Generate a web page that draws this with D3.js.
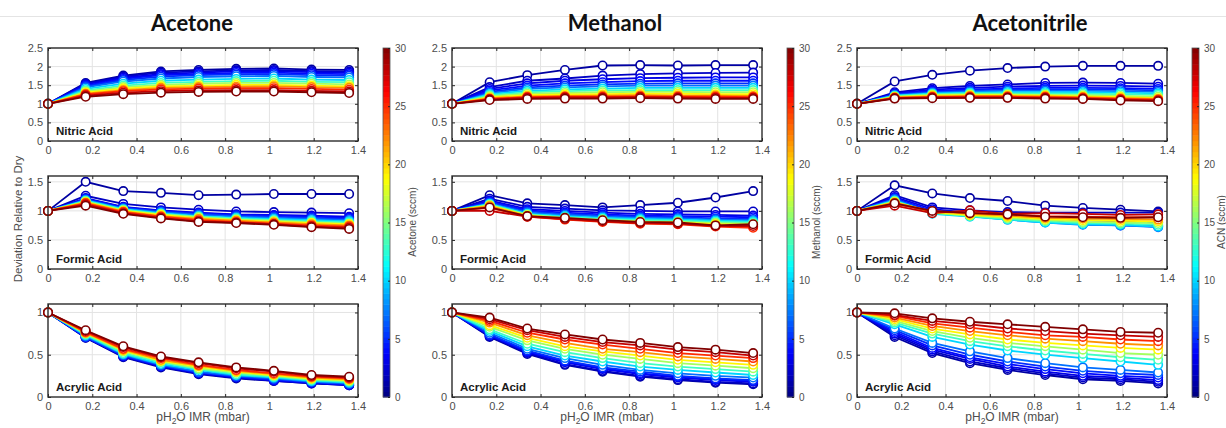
<!doctype html>
<html lang="en">
<head>
<meta charset="utf-8" />
<title>Deviation Relative to Dry</title>
<style>
  html, body { margin: 0; padding: 0; background: #fff; }
  svg { display: block; font-family: "Liberation Sans", Arial, sans-serif; }
  .tick text { fill: #4d4d4d; font-size: 11px; }
  .tick line { stroke: #262626; }
</style>
</head>
<body>
<svg id="chart" width="1226" height="428"></svg>

<script src="https://cdn.jsdelivr.net/npm/d3@7"></script>
<script>

// ---- data ----
var solvents = ['Acetone', 'Methanol', 'Acetonitrile'];
var cbLabels = ['Acetone (sccm)', 'Methanol (sccm)', 'ACN (sccm)'];
var acids = ['Nitric Acid', 'Formic Acid', 'Acrylic Acid'];
var xVals = [0, 0.17, 0.34, 0.51, 0.68, 0.85, 1.02, 1.19, 1.36];
var xTicks = [0, 0.2, 0.4, 0.6, 0.8, 1, 1.2, 1.4];
var yMax = [2.5, 1.6, 1.1];
var yTicks = [[0, 0.5, 1, 1.5, 2, 2.5], [0, 0.5, 1, 1.5], [0, 0.5, 1]];
var cbTicks = [0, 5, 10, 15, 20, 25, 30];
// flow of the added solvent (sccm), one row of each matrix per flow
var flows = [1, 2, 3, 4, 5, 7, 10, 13, 16, 19, 22, 25, 28, 30];

var acetoneNitric = [
  [1, 1.56, 1.76, 1.87, 1.91, 1.94, 1.95, 1.92, 1.91],
  [1, 1.54, 1.73, 1.84, 1.87, 1.90, 1.91, 1.88, 1.87],
  [1, 1.52, 1.70, 1.80, 1.84, 1.87, 1.88, 1.85, 1.84],
  [1, 1.49, 1.67, 1.77, 1.80, 1.83, 1.84, 1.81, 1.80],
  [1, 1.47, 1.64, 1.73, 1.77, 1.79, 1.80, 1.77, 1.76],
  [1, 1.44, 1.60, 1.68, 1.72, 1.74, 1.75, 1.72, 1.71],
  [1, 1.40, 1.54, 1.62, 1.65, 1.67, 1.68, 1.65, 1.64],
  [1, 1.36, 1.49, 1.56, 1.59, 1.61, 1.62, 1.59, 1.58],
  [1, 1.33, 1.45, 1.51, 1.54, 1.56, 1.56, 1.54, 1.52],
  [1, 1.30, 1.41, 1.47, 1.49, 1.51, 1.51, 1.49, 1.47],
  [1, 1.27, 1.37, 1.43, 1.45, 1.46, 1.47, 1.45, 1.43],
  [1, 1.25, 1.34, 1.39, 1.41, 1.42, 1.42, 1.40, 1.38],
  [1, 1.22, 1.30, 1.34, 1.36, 1.37, 1.37, 1.35, 1.33],
  [1, 1.19, 1.26, 1.30, 1.32, 1.33, 1.33, 1.31, 1.29]
];
var acetoneFormic = [
  [1, 1.50, 1.34, 1.31, 1.27, 1.28, 1.29, 1.29, 1.29],
  [1, 1.26, 1.12, 1.06, 1.02, 0.99, 0.98, 0.97, 0.96],
  [1, 1.22, 1.07, 1.01, 0.97, 0.94, 0.93, 0.92, 0.90],
  [1, 1.21, 1.06, 1.00, 0.96, 0.93, 0.92, 0.90, 0.88],
  [1, 1.20, 1.05, 0.99, 0.95, 0.92, 0.90, 0.88, 0.86],
  [1, 1.19, 1.04, 0.98, 0.93, 0.90, 0.88, 0.86, 0.84],
  [1, 1.18, 1.03, 0.96, 0.91, 0.88, 0.86, 0.84, 0.82],
  [1, 1.17, 1.02, 0.95, 0.90, 0.87, 0.84, 0.82, 0.80],
  [1, 1.16, 1.01, 0.94, 0.89, 0.85, 0.83, 0.80, 0.78],
  [1, 1.15, 1.00, 0.93, 0.87, 0.84, 0.81, 0.79, 0.77],
  [1, 1.14, 0.99, 0.91, 0.86, 0.83, 0.80, 0.77, 0.75],
  [1, 1.13, 0.98, 0.90, 0.84, 0.81, 0.78, 0.75, 0.73],
  [1, 1.11, 0.96, 0.88, 0.82, 0.80, 0.77, 0.73, 0.71],
  [1, 1.09, 0.95, 0.87, 0.81, 0.79, 0.76, 0.72, 0.69]
];
var acetoneAcrylic = [
  [1, 0.70, 0.47, 0.35, 0.27, 0.22, 0.19, 0.16, 0.14],
  [1, 0.70, 0.48, 0.36, 0.28, 0.23, 0.19, 0.16, 0.14],
  [1, 0.71, 0.48, 0.36, 0.28, 0.23, 0.20, 0.17, 0.14],
  [1, 0.71, 0.49, 0.37, 0.29, 0.24, 0.20, 0.17, 0.15],
  [1, 0.71, 0.49, 0.37, 0.29, 0.24, 0.21, 0.18, 0.15],
  [1, 0.72, 0.50, 0.38, 0.30, 0.25, 0.22, 0.18, 0.16],
  [1, 0.73, 0.51, 0.39, 0.32, 0.26, 0.23, 0.19, 0.17],
  [1, 0.74, 0.52, 0.41, 0.33, 0.27, 0.24, 0.20, 0.18],
  [1, 0.75, 0.54, 0.42, 0.34, 0.29, 0.25, 0.21, 0.19],
  [1, 0.76, 0.55, 0.43, 0.36, 0.30, 0.26, 0.22, 0.20],
  [1, 0.76, 0.56, 0.44, 0.37, 0.31, 0.27, 0.23, 0.21],
  [1, 0.77, 0.57, 0.46, 0.38, 0.32, 0.28, 0.24, 0.22],
  [1, 0.78, 0.59, 0.47, 0.40, 0.34, 0.30, 0.25, 0.23],
  [1, 0.79, 0.60, 0.48, 0.41, 0.35, 0.31, 0.26, 0.24]
];

var methanolNitric = [
  [1, 1.58, 1.77, 1.91, 2.03, 2.04, 2.03, 2.04, 2.04],
  [1, 1.45, 1.62, 1.68, 1.76, 1.80, 1.82, 1.83, 1.84],
  [1, 1.40, 1.55, 1.62, 1.66, 1.69, 1.70, 1.71, 1.71],
  [1, 1.36, 1.49, 1.55, 1.58, 1.61, 1.62, 1.62, 1.62],
  [1, 1.32, 1.44, 1.49, 1.52, 1.54, 1.55, 1.55, 1.55],
  [1, 1.29, 1.40, 1.44, 1.47, 1.49, 1.49, 1.49, 1.49],
  [1, 1.26, 1.35, 1.39, 1.41, 1.43, 1.43, 1.43, 1.43],
  [1, 1.23, 1.31, 1.34, 1.36, 1.37, 1.37, 1.37, 1.37],
  [1, 1.20, 1.27, 1.29, 1.31, 1.32, 1.32, 1.31, 1.31],
  [1, 1.17, 1.23, 1.25, 1.26, 1.27, 1.27, 1.26, 1.26],
  [1, 1.15, 1.20, 1.21, 1.22, 1.23, 1.22, 1.22, 1.21],
  [1, 1.13, 1.18, 1.19, 1.19, 1.20, 1.19, 1.19, 1.18],
  [1, 1.12, 1.16, 1.17, 1.17, 1.18, 1.17, 1.16, 1.16],
  [1, 1.10, 1.13, 1.14, 1.14, 1.15, 1.14, 1.13, 1.13]
];
var methanolFormic = [
  [1, 1.27, 1.13, 1.10, 1.06, 1.10, 1.14, 1.23, 1.34],
  [1, 1.21, 1.07, 1.04, 1.01, 1.00, 0.99, 0.99, 0.99],
  [1, 1.18, 1.03, 1.00, 0.97, 0.95, 0.94, 0.93, 0.92],
  [1, 1.16, 1.01, 0.97, 0.94, 0.92, 0.91, 0.90, 0.89],
  [1, 1.15, 0.99, 0.95, 0.92, 0.90, 0.89, 0.87, 0.86],
  [1, 1.13, 0.97, 0.93, 0.90, 0.88, 0.87, 0.85, 0.84],
  [1, 1.12, 0.95, 0.91, 0.88, 0.86, 0.85, 0.83, 0.82],
  [1, 1.11, 0.94, 0.89, 0.86, 0.84, 0.83, 0.81, 0.80],
  [1, 1.10, 0.93, 0.88, 0.85, 0.82, 0.81, 0.79, 0.78],
  [1, 1.09, 0.92, 0.87, 0.83, 0.81, 0.80, 0.77, 0.76],
  [1, 1.08, 0.91, 0.86, 0.82, 0.79, 0.78, 0.75, 0.73],
  [1, 1.05, 0.90, 0.85, 0.81, 0.78, 0.77, 0.73, 0.71],
  [1, 1.00, 0.90, 0.86, 0.82, 0.79, 0.78, 0.74, 0.74],
  [1, 1.06, 0.91, 0.88, 0.84, 0.81, 0.80, 0.75, 0.77]
];
var methanolAcrylic = [
  [1, 0.71, 0.51, 0.38, 0.30, 0.24, 0.20, 0.17, 0.15],
  [1, 0.72, 0.52, 0.39, 0.31, 0.25, 0.21, 0.18, 0.16],
  [1, 0.73, 0.53, 0.41, 0.33, 0.27, 0.23, 0.20, 0.18],
  [1, 0.73, 0.54, 0.42, 0.34, 0.28, 0.24, 0.21, 0.19],
  [1, 0.74, 0.55, 0.43, 0.35, 0.30, 0.25, 0.22, 0.20],
  [1, 0.76, 0.57, 0.46, 0.38, 0.32, 0.28, 0.25, 0.23],
  [1, 0.78, 0.60, 0.49, 0.42, 0.36, 0.32, 0.29, 0.26],
  [1, 0.80, 0.63, 0.53, 0.46, 0.40, 0.36, 0.33, 0.30],
  [1, 0.83, 0.67, 0.57, 0.50, 0.45, 0.40, 0.37, 0.34],
  [1, 0.85, 0.70, 0.60, 0.54, 0.49, 0.44, 0.41, 0.38],
  [1, 0.88, 0.73, 0.64, 0.57, 0.53, 0.48, 0.45, 0.42],
  [1, 0.90, 0.76, 0.68, 0.62, 0.57, 0.52, 0.49, 0.46],
  [1, 0.92, 0.79, 0.71, 0.65, 0.61, 0.56, 0.53, 0.49],
  [1, 0.94, 0.81, 0.74, 0.68, 0.64, 0.59, 0.56, 0.52]
];

var acnNitric = [
  [1, 1.60, 1.78, 1.89, 1.96, 2.00, 2.02, 2.02, 2.02],
  [1, 1.31, 1.42, 1.48, 1.52, 1.56, 1.57, 1.56, 1.54],
  [1, 1.28, 1.38, 1.43, 1.46, 1.48, 1.49, 1.48, 1.46],
  [1, 1.26, 1.35, 1.39, 1.41, 1.43, 1.43, 1.42, 1.40],
  [1, 1.25, 1.32, 1.36, 1.38, 1.39, 1.39, 1.38, 1.36],
  [1, 1.23, 1.30, 1.33, 1.35, 1.35, 1.35, 1.34, 1.32],
  [1, 1.22, 1.28, 1.30, 1.31, 1.31, 1.31, 1.30, 1.28],
  [1, 1.21, 1.26, 1.28, 1.28, 1.28, 1.27, 1.26, 1.24],
  [1, 1.19, 1.24, 1.25, 1.25, 1.24, 1.23, 1.21, 1.19],
  [1, 1.18, 1.22, 1.23, 1.23, 1.22, 1.20, 1.18, 1.15],
  [1, 1.17, 1.20, 1.21, 1.21, 1.20, 1.18, 1.15, 1.13],
  [1, 1.16, 1.18, 1.19, 1.19, 1.18, 1.16, 1.13, 1.11],
  [1, 1.15, 1.17, 1.17, 1.17, 1.16, 1.14, 1.11, 1.09],
  [1, 1.14, 1.15, 1.16, 1.16, 1.14, 1.13, 1.09, 1.07]
];
var acnFormic = [
  [1, 1.44, 1.30, 1.22, 1.17, 1.09, 1.05, 1.02, 0.99],
  [1, 1.27, 1.06, 1.01, 0.98, 0.97, 0.97, 0.97, 0.97],
  [1, 1.24, 1.03, 0.97, 0.92, 0.87, 0.84, 0.82, 0.80],
  [1, 1.22, 1.00, 0.94, 0.88, 0.83, 0.79, 0.77, 0.75],
  [1, 1.21, 0.98, 0.92, 0.86, 0.81, 0.77, 0.75, 0.73],
  [1, 1.20, 0.96, 0.91, 0.85, 0.80, 0.76, 0.75, 0.72],
  [1, 1.18, 0.95, 0.90, 0.85, 0.80, 0.77, 0.76, 0.73],
  [1, 1.17, 0.96, 0.91, 0.86, 0.82, 0.79, 0.78, 0.76],
  [1, 1.16, 0.97, 0.92, 0.88, 0.84, 0.81, 0.80, 0.79],
  [1, 1.15, 0.98, 0.93, 0.90, 0.86, 0.84, 0.83, 0.82],
  [1, 1.14, 0.99, 0.95, 0.92, 0.88, 0.87, 0.86, 0.85],
  [1, 1.12, 0.99, 0.97, 0.94, 0.91, 0.90, 0.89, 0.89],
  [1, 1.09, 0.96, 1.01, 0.95, 0.96, 0.95, 0.93, 0.94],
  [1, 1.13, 1.00, 0.96, 0.94, 0.90, 0.89, 0.88, 0.89]
];
var acnAcrylic = [
  [1, 0.71, 0.52, 0.40, 0.32, 0.26, 0.21, 0.19, 0.16],
  [1, 0.73, 0.54, 0.42, 0.34, 0.28, 0.23, 0.21, 0.18],
  [1, 0.75, 0.56, 0.45, 0.36, 0.30, 0.25, 0.23, 0.20],
  [1, 0.77, 0.58, 0.47, 0.39, 0.33, 0.28, 0.25, 0.23],
  [1, 0.79, 0.61, 0.50, 0.42, 0.36, 0.31, 0.28, 0.26],
  [1, 0.81, 0.64, 0.54, 0.46, 0.40, 0.35, 0.32, 0.29],
  [1, 0.86, 0.71, 0.62, 0.55, 0.50, 0.46, 0.42, 0.38],
  [1, 0.88, 0.75, 0.66, 0.60, 0.55, 0.51, 0.47, 0.44],
  [1, 0.90, 0.78, 0.70, 0.64, 0.60, 0.56, 0.52, 0.50],
  [1, 0.92, 0.81, 0.74, 0.68, 0.64, 0.61, 0.58, 0.56],
  [1, 0.94, 0.84, 0.78, 0.73, 0.69, 0.66, 0.63, 0.61],
  [1, 0.96, 0.87, 0.82, 0.77, 0.73, 0.71, 0.68, 0.66],
  [1, 0.97, 0.90, 0.86, 0.81, 0.78, 0.75, 0.73, 0.71],
  [1, 0.99, 0.93, 0.89, 0.86, 0.83, 0.80, 0.77, 0.76]
];

var panelData = [
  [acetoneNitric, acetoneFormic, acetoneAcrylic],
  [methanolNitric, methanolFormic, methanolAcrylic],
  [acnNitric, acnFormic, acnAcrylic]
];

// ---- layout ----
var colLeft = [48, 452, 857];
var rowTop = [48, 176, 304];
var plotW = 310, plotH = 93;
var titleX = [192, 615, 1030];
var cbTop = 48, cbBottom = 397, cbW = 7;

// MATLAB "jet" colormap over 0..30 sccm
var jet = d3.scaleLinear()
  .domain([0, 3.75, 11.25, 18.75, 26.25, 30])
  .range(['#000080', '#0000ff', '#00ffff', '#ffff00', '#ff0000', '#800000'])
  .clamp(true);

var svg = d3.select('#chart');

// faint slide edge at the top
svg.append('line')
  .attr('x1', 0).attr('x2', 1226).attr('y1', 16.5).attr('y2', 16.5)
  .attr('stroke', '#e4e4e4');

var x = d3.scaleLinear().domain([0, 1.4]).range([0, plotW]);
var fmt = d3.format('~g');

solvents.forEach(function (solvent, c) {
  var left = colLeft[c];

  svg.append('text')
    .attr('x', titleX[c]).attr('y', 31)
    .attr('text-anchor', 'middle')
    .style('font-family', 'Lato, "Open Sans", sans-serif')
    .style('font-weight', 'bold')
    .style('font-size', '22px')
    .attr('fill', '#111')
    .text(solvent);

  acids.forEach(function (acid, r) {
    var y = d3.scaleLinear().domain([0, yMax[r]]).range([plotH, 0]);
    var g = svg.append('g').attr('transform', 'translate(' + left + ',' + rowTop[r] + ')');

    // grid
    g.append('g').selectAll('line').data(xTicks.slice(1, -1)).enter().append('line')
      .attr('x1', function (d) { return x(d); }).attr('x2', function (d) { return x(d); })
      .attr('y1', 0).attr('y2', plotH)
      .attr('stroke', '#e3e3e3');
    g.append('g').selectAll('line').data(yTicks[r].slice(1)).enter().append('line')
      .attr('y1', function (d) { return y(d); }).attr('y2', function (d) { return y(d); })
      .attr('x1', 0).attr('x2', plotW)
      .attr('stroke', '#e3e3e3');

    // axes, ticks pointing inward like MATLAB
    var xb = g.append('g').attr('transform', 'translate(0,' + plotH + ')')
      .call(d3.axisBottom(x).tickValues(xTicks).tickFormat(fmt).tickSizeInner(-3).tickSizeOuter(0).tickPadding(5));
    var xt = g.append('g')
      .call(d3.axisTop(x).tickValues(xTicks).tickSizeInner(-3).tickSizeOuter(0).tickFormat(''));
    var yl = g.append('g')
      .call(d3.axisLeft(y).tickValues(yTicks[r]).tickFormat(fmt).tickSizeInner(-3).tickSizeOuter(0).tickPadding(5));
    var yr = g.append('g').attr('transform', 'translate(' + plotW + ',0)')
      .call(d3.axisRight(y).tickValues(yTicks[r]).tickSizeInner(-3).tickSizeOuter(0).tickFormat(''));
    [xb, xt, yl, yr].forEach(function (a) { a.select('.domain').remove(); });

    // series, low flow first
    var line = d3.line()
      .x(function (d, i) { return x(xVals[i]); })
      .y(function (d) { return y(d); });

    var series = panelData[c][r];
    series.forEach(function (vals, k) {
      var col = jet(flows[k]);
      var sg = g.append('g');
      sg.append('path')
        .attr('d', line(vals))
        .attr('fill', 'none')
        .attr('stroke', col)
        .attr('stroke-width', 1.8);
      sg.selectAll('circle').data(vals).enter().append('circle')
        .attr('cx', function (d, i) { return x(xVals[i]); })
        .attr('cy', function (d) { return y(d); })
        .attr('r', 4.2)
        .attr('fill', '#fff')
        .attr('stroke', col)
        .attr('stroke-width', 1.6);
    });

    // box
    g.append('rect')
      .attr('width', plotW).attr('height', plotH)
      .attr('fill', 'none')
      .attr('stroke', '#2b2b2b')
      .attr('stroke-width', 1.4);

    g.append('text')
      .attr('x', 8).attr('y', plotH - 6)
      .style('font-weight', 'bold')
      .style('font-size', '11.5px')
      .attr('fill', '#1a1a1a')
      .text(acid);
  });

  // colorbar
  var cbx = left + 335;
  var cy = d3.scaleLinear().domain([0, 30]).range([cbBottom, cbTop]);
  var steps = d3.range(64);
  var cb = svg.append('g').attr('transform', 'translate(' + cbx + ',0)');
  cb.selectAll('rect').data(steps).enter().append('rect')
    .attr('x', 0).attr('width', cbW)
    .attr('y', function (d) { return cy((d + 1) * 30 / 64); })
    .attr('height', function (d) { return cy(d * 30 / 64) - cy((d + 1) * 30 / 64) + 0.5; })
    .attr('fill', function (d) { return jet((d + 0.5) * 30 / 64); });
  cb.append('rect')
    .attr('width', cbW).attr('y', cbTop).attr('height', cbBottom - cbTop)
    .attr('fill', 'none').attr('stroke', '#555').attr('stroke-width', 0.8);
  var cba = cb.append('g').attr('transform', 'translate(' + cbW + ',0)')
    .call(d3.axisRight(cy).tickValues(cbTicks).tickSizeInner(-2).tickSizeOuter(0).tickPadding(5));
  cba.select('.domain').remove();
  cba.selectAll('text').style('font-size', '10px');

  svg.append('text')
    .attr('transform', 'translate(' + (cbx + 33) + ',222) rotate(-90)')
    .attr('text-anchor', 'middle')
    .style('font-size', '10px')
    .attr('fill', '#4d4d4d')
    .text(cbLabels[c]);

  // x axis title with subscript
  var xl = svg.append('text')
    .attr('x', left + plotW / 2).attr('y', 421)
    .attr('text-anchor', 'middle')
    .style('font-size', '12px')
    .attr('fill', '#4d4d4d');
  xl.append('tspan').text('pH');
  xl.append('tspan').attr('dy', 3).style('font-size', '8.5px').text('2');
  xl.append('tspan').attr('dy', -3).text('O IMR (mbar)');
});

svg.append('text')
  .attr('transform', 'translate(22,219) rotate(-90)')
  .attr('text-anchor', 'middle')
  .style('font-size', '11.5px')
  .attr('fill', '#4d4d4d')
  .text('Deviation Relative to Dry');

</script>
</body>
</html>
